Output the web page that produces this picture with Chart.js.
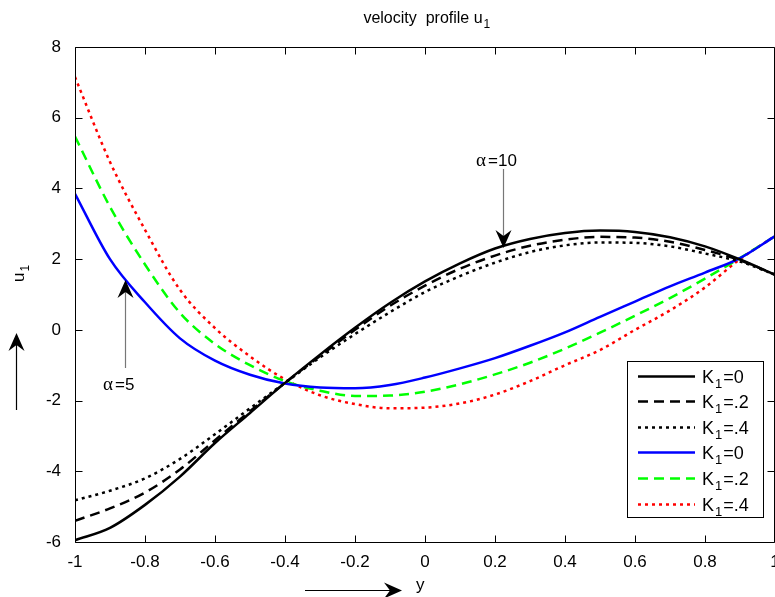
<!DOCTYPE html>
<html>
<head>
<meta charset="utf-8">
<script src="https://cdn.jsdelivr.net/npm/chart.js@4.4.1/dist/chart.umd.min.js"></script>
<style>
  html, body { margin: 0; padding: 0; background: #fff; }
  #velChart { display: block; }
</style>
</head>
<body>
<canvas id="velChart" width="775" height="597"></canvas>
<script>
// y positions (x-axis) and velocity values
const yPos = [-1, -0.9, -0.8, -0.7, -0.6, -0.5, -0.4, -0.3, -0.2, -0.1, 0,
              0.1, 0.2, 0.3, 0.4, 0.5, 0.6, 0.7, 0.8, 0.9, 1];

// alpha = 10
const a10K0  = [-5.95, -5.6, -4.95, -4.15, -3.2, -2.35, -1.5, -0.7, 0.06, 0.76, 1.37,
                1.88, 2.3, 2.57, 2.74, 2.81, 2.77, 2.62, 2.36, 1.99, 1.56];
const a10K02 = [-5.4, -5.05, -4.6, -3.95, -3.12, -2.3, -1.5, -0.74, 0.0, 0.68, 1.25,
                1.73, 2.1, 2.38, 2.55, 2.63, 2.61, 2.49, 2.26, 1.97, 1.56];
const a10K04 = [-4.82, -4.55, -4.2, -3.65, -2.95, -2.22, -1.5, -0.78, -0.12, 0.5, 1.07,
                1.52, 1.9, 2.2, 2.39, 2.47, 2.46, 2.36, 2.16, 1.93, 1.56];

// alpha = 5
const a5K0   = [3.85, 2.0, 0.78, -0.24, -0.87, -1.27, -1.52, -1.63, -1.65, -1.56, -1.35,
                -1.09, -0.8, -0.45, -0.07, 0.37, 0.8, 1.23, 1.62, 2.03, 2.65];
const a5K02  = [5.47, 3.48, 1.85, 0.48, -0.4, -1.0, -1.45, -1.72, -1.87, -1.86, -1.75,
                -1.54, -1.26, -0.93, -0.53, -0.08, 0.4, 0.9, 1.45, 2.03, 2.65];
const a5K04  = [7.15, 4.75, 2.83, 1.13, 0.05, -0.75, -1.4, -1.85, -2.1, -2.22, -2.2,
                -2.08, -1.83, -1.45, -1.0, -0.57, 0.0, 0.55, 1.2, 2.0, 2.65];

const kLabels = ['0', '.2', '.4', '0', '.2', '.4'];
const xTicks = [-1, -0.8, -0.6, -0.4, -0.2, 0, 0.2, 0.4, 0.6, 0.8, 1];
const yTicks = [-6, -4, -2, 0, 2, 4, 6, 8];

const FONT = '"Liberation Sans", Arial, sans-serif';

function pts(vals) {
  return vals.map((v, i) => ({ x: yPos[i], y: v }));
}

function line(label, vals, color, dash) {
  return {
    label: label,
    data: pts(vals),
    borderColor: color,
    backgroundColor: color,
    borderWidth: 2.5,
    borderDash: dash,
    borderCapStyle: 'butt',
    pointRadius: 0,
    cubicInterpolationMode: 'monotone',
    fill: false
  };
}

// K_1 style text: "K" + subscript "1" + "=value"
function drawSub(ctx, x, y, main, sub, rest, size) {
  ctx.font = size + 'px ' + FONT;
  ctx.fillText(main, x, y);
  let w = ctx.measureText(main).width;
  ctx.font = Math.round(size * 0.72) + 'px ' + FONT;
  ctx.fillText(sub, x + w + 1, y + size * 0.3);
  let w2 = ctx.measureText(sub).width;
  ctx.font = size + 'px ' + FONT;
  if (rest) ctx.fillText(rest, x + w + w2 + 2, y);
}

function arrowHead(ctx, x, y, dir) {
  // dir: 1 = pointing down, -1 = pointing up, 2 = pointing right
  ctx.save();
  ctx.translate(x, y);
  if (dir === 1) ctx.rotate(Math.PI);
  if (dir === 2) ctx.rotate(Math.PI / 2);
  ctx.beginPath();
  ctx.moveTo(0, 0);
  ctx.lineTo(-8, 18);
  ctx.lineTo(0, 12);
  ctx.lineTo(8, 18);
  ctx.closePath();
  ctx.fillStyle = '#000';
  ctx.fill();
  ctx.restore();
}

const framePlugin = {
  id: 'frame',
  afterDraw(chart) {
    const ctx = chart.ctx;
    const xs = chart.scales.x, ys = chart.scales.y;
    const L = 75.5, R = 774.5, T = 47.5, B = 542.5;
    ctx.save();
    ctx.strokeStyle = '#000';
    ctx.lineWidth = 1;
    ctx.beginPath();
    ctx.rect(L, T, R - L, B - T);
    xTicks.forEach(v => {
      const px = Math.round(xs.getPixelForValue(v)) + 0.5;
      ctx.moveTo(px, B); ctx.lineTo(px, B - 7);
      ctx.moveTo(px, T); ctx.lineTo(px, T + 7);
    });
    yTicks.forEach(v => {
      const py = Math.round(ys.getPixelForValue(v)) + 0.5;
      ctx.moveTo(L, py); ctx.lineTo(L + 7, py);
      ctx.moveTo(R, py); ctx.lineTo(R - 7, py);
    });
    ctx.stroke();

    ctx.fillStyle = '#000';
    ctx.textBaseline = 'alphabetic';
    // title
    ctx.textAlign = 'left';
    ctx.font = '16px ' + FONT;
    const t = 'velocity  profile u';
    const tw = ctx.measureText(t).width;
    drawSub(ctx, 423 - tw / 2, 23, t, '1', '', 16);

    // x label
    ctx.font = '17px ' + FONT;
    ctx.fillText('y', 416, 590);
    ctx.beginPath();
    ctx.moveTo(305, 590.5); ctx.lineTo(392, 590.5);
    ctx.lineWidth = 1.2;
    ctx.stroke();
    arrowHead(ctx, 402, 590.5, 2);

    // y label (rotated)
    ctx.save();
    ctx.translate(24, 282);
    ctx.rotate(-Math.PI / 2);
    drawSub(ctx, 0, 0, 'u', '1', '', 17);
    ctx.restore();
    ctx.beginPath();
    ctx.moveTo(16.5, 410); ctx.lineTo(16.5, 345);
    ctx.stroke();
    arrowHead(ctx, 16.5, 333, -1);

    // annotation alpha = 10
    ctx.strokeStyle = '#777';
    ctx.lineWidth = 1.2;
    ctx.beginPath();
    ctx.moveTo(503.5, 169); ctx.lineTo(503.5, 238);
    ctx.stroke();
    arrowHead(ctx, 503.5, 248, 1);
    ctx.font = '19px "Liberation Serif", serif';
    ctx.fillText('\u03b1', 476, 166);
    ctx.font = '17px ' + FONT;
    ctx.fillText('=10', 488, 166);

    // annotation alpha = 5
    ctx.beginPath();
    ctx.moveTo(125.5, 368); ctx.lineTo(125.5, 292);
    ctx.stroke();
    arrowHead(ctx, 125.5, 280, -1);
    ctx.font = '19px "Liberation Serif", serif';
    ctx.fillText('\u03b1', 103, 390);
    ctx.font = '17px ' + FONT;
    ctx.fillText('=5', 115, 390);

    // legend
    const lx = 627.5, lw = 136, ly = 361.5, rowH = 25.6;
    const sets = chart.data.datasets;
    const lh = 156;
    ctx.fillStyle = '#fff';
    ctx.fillRect(lx, ly, lw, lh);
    ctx.strokeStyle = '#000';
    ctx.lineWidth = 1;
    ctx.strokeRect(lx, ly, lw, lh);
    sets.forEach((ds, i) => {
      const cy = Math.round(ly + 14 + i * rowH) + 0.5;
      ctx.strokeStyle = ds.borderColor;
      ctx.lineWidth = 2.5;
      ctx.setLineDash(ds.borderDash || []);
      ctx.beginPath();
      ctx.moveTo(638, cy); ctx.lineTo(695, cy);
      ctx.stroke();
      ctx.setLineDash([]);
      ctx.fillStyle = '#000';
      drawSub(ctx, 702, cy + 6, 'K', '1', '=' + kLabels[i], 18);
    });
    ctx.restore();
  }
};

new Chart(document.getElementById('velChart'), {
  type: 'line',
  data: {
    datasets: [
      line('K1=0',  a10K0,  '#000000', []),
      line('K1=.2', a10K02, '#000000', [10, 6]),
      line('K1=.4', a10K04, '#000000', [3, 4]),
      line('K1=0',  a5K0,   '#0000ff', []),
      line('K1=.2', a5K02,  '#00ff00', [10, 6]),
      line('K1=.4', a5K04,  '#ff0000', [3, 4])
    ]
  },
  options: {
    responsive: false,
    animation: false,
    devicePixelRatio: 1,
    layout: { padding: { top: 47, right: 0, left: 0, bottom: 0 } },
    plugins: {
      legend: { display: false },
      title: { display: false },
      tooltip: { enabled: false }
    },
    scales: {
      x: {
        type: 'linear',
        min: -1,
        max: 1,
        afterFit: s => { s.height = 55; s.paddingLeft = 0; s.paddingRight = 0; },
        afterBuildTicks: s => { s.ticks = xTicks.map(v => ({ value: v })); },
        grid: { display: false },
        border: { display: false },
        ticks: {
          padding: 2,
          maxRotation: 0,
          color: '#000',
          font: { family: FONT, size: 17 },
          callback: v => String(Math.round(v * 10) / 10)
        }
      },
      y: {
        min: -6,
        max: 8,
        afterFit: s => { s.width = 75; s.paddingTop = 0; s.paddingBottom = 0; },
        afterBuildTicks: s => { s.ticks = yTicks.map(v => ({ value: v })); },
        grid: { display: false },
        border: { display: false },
        ticks: {
          padding: 6,
          color: '#000',
          font: { family: FONT, size: 17 }
        }
      }
    }
  },
  plugins: [framePlugin]
});
</script>
</body>
</html>
